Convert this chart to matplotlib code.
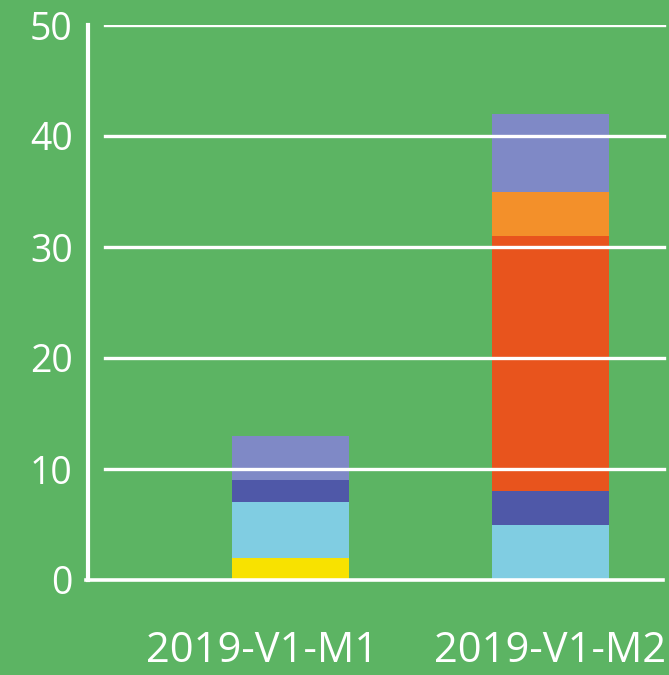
import numpy as np
import matplotlib.pyplot as plt
from matplotlib.transforms import ScaledTranslation

categories = ["2019-V1-M1", "2019-V1-M2"]
# stacked segments, bottom to top
seg_yellow = [2, 0]
seg_lightblue = [5, 5]
seg_darkblue = [2, 3]
seg_red = [0, 23]
seg_orange = [0, 4]
seg_lavender = [4, 7]
yticks = [0, 10, 20, 30, 40, 50]

series = [
    (seg_yellow, "#f8e200"),
    (seg_lightblue, "#80cde2"),
    (seg_darkblue, "#4f58a8"),
    (seg_red, "#e8541d"),
    (seg_orange, "#f3902a"),
    (seg_lavender, "#7f89c6"),
]

bg = "#5cb463"
plt.rcParams['font.family'] = ['Open Sans', 'DejaVu Sans']

fig = plt.figure(figsize=(6.69, 6.75), dpi=100, facecolor=bg)
ax = fig.add_axes([88 / 669, 1 - 580 / 675, 581 / 669, 555 / 675])
ax.set_facecolor(bg)

x = np.arange(len(categories))
bottom = np.zeros(len(categories))
for vals, col in series:
    ax.bar(x, vals, width=0.45, bottom=bottom, color=col, zorder=2)
    bottom += np.array(vals)

ax.set_xlim(-0.779, 1.456)
ax.set_ylim(0, 50)

# gridlines over bars
for t in yticks[1:]:
    ax.axhline(t, xmin=0.029, xmax=0.991, color="white", lw=2.4, zorder=3)
ax.axhline(0, xmin=-0.004, xmax=0.99, color="white", lw=2.6, zorder=4, clip_on=False)

for s in ["top", "right", "bottom"]:
    ax.spines[s].set_visible(False)
ax.spines["left"].set_color("white")
ax.spines["left"].set_linewidth(3)
ax.spines["left"].set_zorder(4)

ax.set_yticks(yticks)
ax.set_xticks(x)
ax.set_xticklabels(categories)
ax.tick_params(axis="both", length=0, colors="white")
ax.tick_params(axis="y", pad=11, labelsize=27)
ax.tick_params(axis="x", pad=36, labelsize=30)

# first category label sits a little left of its bar
lbl = ax.get_xticklabels()[0]
lbl.set_transform(lbl.get_transform() + ScaledTranslation(-0.285, 0, fig.dpi_scale_trans))

fig.savefig("out.png", dpi=100, facecolor=bg)
